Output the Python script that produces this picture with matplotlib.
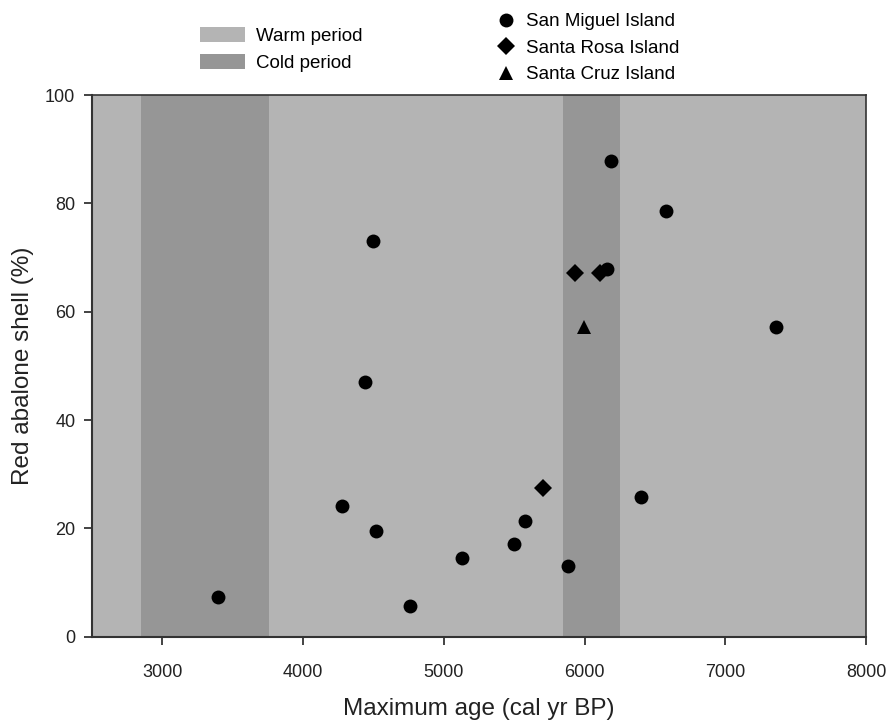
import matplotlib.pyplot as plt
from matplotlib.patches import Patch
from matplotlib.lines import Line2D

plt.rcParams['font.family'] = ['Liberation Sans', 'DejaVu Sans']

# data
sm_age = [3397, 4279, 4438, 4499, 4518, 4762, 5128, 5498, 5578, 5886, 6159, 6188, 6398, 6579, 7358]
sm_pct = [7.4, 24.2, 47.0, 73.0, 19.5, 5.7, 14.6, 17.2, 21.4, 13.0, 67.9, 87.9, 25.8, 78.6, 57.2]
sr_age = [5708, 5929, 6107]
sr_pct = [27.5, 67.1, 67.1]
sc_age = [5996]
sc_pct = [57.2]
cold_start = [2850, 5845]
cold_end = [3755, 6255]

warm_col = '#b4b4b4'
cold_col = '#969696'

fig = plt.figure(figsize=(8.88, 7.2), dpi=100)
ax = fig.add_axes([0.1036, 0.1157, 0.8716, 0.7523])
ax.set_facecolor(warm_col)

for s, e in zip(cold_start, cold_end):
    ax.axvspan(s, e, color=cold_col, lw=0, zorder=1)

ms = 10
ax.plot(sm_age, sm_pct, 'o', color='black', ms=ms, mew=0, zorder=3)
ax.plot(sr_age, sr_pct, 'D', color='black', ms=9.5, mew=0, zorder=3)
ax.plot(sc_age, sc_pct, '^', color='black', ms=ms, mew=0, zorder=3)

ax.set_xlim(2500, 8000)
ax.set_ylim(0, 100)
ax.set_xticks([3000, 4000, 5000, 6000, 7000, 8000])
ax.set_yticks([0, 20, 40, 60, 80, 100])
ax.tick_params(direction='out', length=6, width=1.2, color='#222222',
               labelsize=13, labelcolor='#222222', pad=6)
ax.tick_params(axis='x', pad=14)
for side in ['left', 'bottom', 'top', 'right']:
    ax.spines[side].set_color('#333333')
ax.spines['left'].set_linewidth(1.5)
ax.spines['bottom'].set_linewidth(1.5)
ax.spines['top'].set_linewidth(1.2)
ax.spines['right'].set_linewidth(1.2)

ax.set_xlabel('Maximum age (cal yr BP)', fontsize=17.5, color='#222222', labelpad=12)
ax.set_ylabel('Red abalone shell (%)', fontsize=17.5, color='#222222', labelpad=8)

period_handles = [Patch(facecolor=warm_col, edgecolor='none', label='Warm period'),
                  Patch(facecolor=cold_col, edgecolor='none', label='Cold period')]
leg1 = fig.legend(handles=period_handles, loc='center left',
                  bbox_to_anchor=(0.225, 0.931), frameon=False, fontsize=13.5,
                  handlelength=2.4, handleheight=0.85, handletextpad=0.6,
                  labelspacing=0.5, borderpad=0, borderaxespad=0)

site_handles = [Line2D([], [], marker='o', ls='', color='black', ms=ms, mew=0, label='San Miguel Island'),
                Line2D([], [], marker='D', ls='', color='black', ms=9.5, mew=0, label='Santa Rosa Island'),
                Line2D([], [], marker='^', ls='', color='black', ms=ms, mew=0, label='Santa Cruz Island')]
leg2 = fig.legend(handles=site_handles, loc='center left',
                  bbox_to_anchor=(0.559, 0.933), frameon=False, fontsize=13.5,
                  handlelength=1.0, handletextpad=0.6,
                  labelspacing=0.5, borderpad=0, borderaxespad=0)

fig.savefig('out.png', dpi=100)
